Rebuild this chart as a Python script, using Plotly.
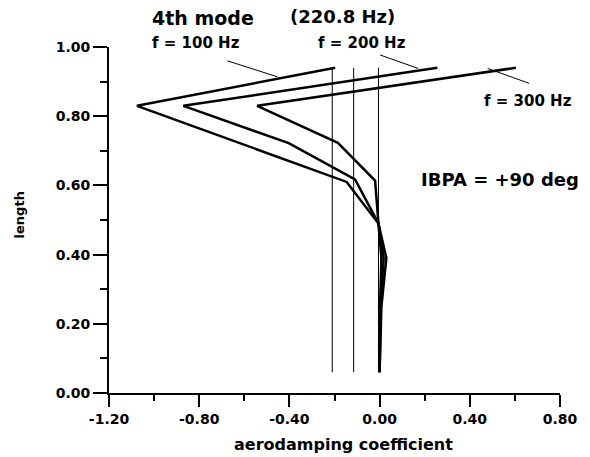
import plotly.graph_objects as go

# ---- data ----
len_100 = [0.94, 0.83, 0.61, 0.49, 0.39, 0.25, 0.06]
coef_100 = [-0.197, -1.076, -0.146, -0.005, 0.030, 0.008, 0.0]

len_200 = [0.94, 0.83, 0.722, 0.617, 0.49, 0.39, 0.25, 0.06]
coef_200 = [0.256, -0.870, -0.403, -0.109, -0.005, 0.018, 0.005, 0.0]

len_300 = [0.94, 0.83, 0.723, 0.614, 0.49, 0.39, 0.25, 0.06]
coef_300 = [0.604, -0.543, -0.185, -0.020, -0.005, 0.008, 0.002, 0.0]

ref_lines_x = [-0.21, -0.115, -0.005]
ref_lines_len = [0.06, 0.94]

x_ticks = [-1.2, -0.8, -0.4, 0.0, 0.4, 0.8]
x_ticktext = ["-1.20", "-0.80", "-0.40", "0.00", "0.40", "0.80"]
x_minor = [-1.0, -0.6, -0.2, 0.2, 0.6]
y_ticks = [0.0, 0.2, 0.4, 0.6, 0.8, 1.0]
y_ticktext = ["0.00", "0.20", "0.40", "0.60", "0.80", "1.00"]
y_minor = [0.1, 0.3, 0.5, 0.7, 0.9]

FONT = "DejaVu Sans"

fig = go.Figure()

for xv in ref_lines_x:
    fig.add_trace(go.Scatter(x=[xv, xv], y=ref_lines_len, mode="lines",
                             line=dict(color="black", width=1), showlegend=False,
                             hoverinfo="skip"))

for xs, ys, name in [(coef_100, len_100, "f = 100 Hz"),
                     (coef_200, len_200, "f = 200 Hz"),
                     (coef_300, len_300, "f = 300 Hz")]:
    fig.add_trace(go.Scatter(x=xs, y=ys, mode="lines", name=name,
                             line=dict(color="black", width=2.5), showlegend=False))

# leader lines
leaders = [(-0.675, 0.960, -0.454, 0.914),
           (0.002, 0.977, 0.171, 0.938),
           (0.479, 0.938, 0.663, 0.895)]
for x0, y0, x1, y1 in leaders:
    fig.add_shape(type="line", x0=x0, y0=y0, x1=x1, y1=y1, xref="x", yref="y",
                  line=dict(color="black", width=1))

def ann(text, x, y, size, xref="paper", yref="paper", angle=0):
    fig.add_annotation(text=f"<b>{text}</b>", x=x, y=y, xref=xref, yref=yref,
                       showarrow=False, xanchor="center", yanchor="middle",
                       textangle=angle,
                       font=dict(family=FONT, size=size, color="black"))

ann("4th mode", 0.208, 1.085, 19)
ann("(220.8 Hz)", 0.517, 1.088, 18)
ann("f = 100 Hz", 0.193, 1.012, 15)
ann("f = 200 Hz", 0.562, 1.012, 15)
ann("f = 300 Hz", 0.656, 0.844, 15, xref="x", yref="y")
ann("IBPA = +90 deg", 0.532, 0.616, 18, xref="x", yref="y")
ann("aerodamping coefficient", 0.52, -0.150, 16)
ann("length", -0.199, 0.514, 13, angle=-90)

fig.update_layout(
    width=590, height=457,
    margin=dict(l=109, r=28, t=47, b=64),
    paper_bgcolor="white", plot_bgcolor="white",
    font=dict(family=FONT, color="black"),
    xaxis=dict(range=[-1.2, 0.8], showgrid=False, zeroline=False,
               showline=True, linecolor="black", linewidth=2,
               tickmode="array", tickvals=x_ticks, ticktext=x_ticktext,
               ticks="outside", ticklen=12, tickwidth=2, tickcolor="black",
               tickfont=dict(family=FONT, size=14, color="black", weight="bold"),
               minor=dict(tickmode="array", tickvals=x_minor, ticks="outside",
                          ticklen=6, tickwidth=2, tickcolor="black", showgrid=False)),
    yaxis=dict(range=[0, 1.0], showgrid=False, zeroline=False,
               showline=True, linecolor="black", linewidth=2,
               tickmode="array", tickvals=y_ticks, ticktext=y_ticktext,
               ticks="outside", ticklen=14, tickwidth=2, tickcolor="black",
               tickfont=dict(family=FONT, size=14, color="black", weight="bold"),
               minor=dict(tickmode="array", tickvals=y_minor, ticks="outside",
                          ticklen=7, tickwidth=2, tickcolor="black", showgrid=False)),
)

fig.write_html("out.html")
